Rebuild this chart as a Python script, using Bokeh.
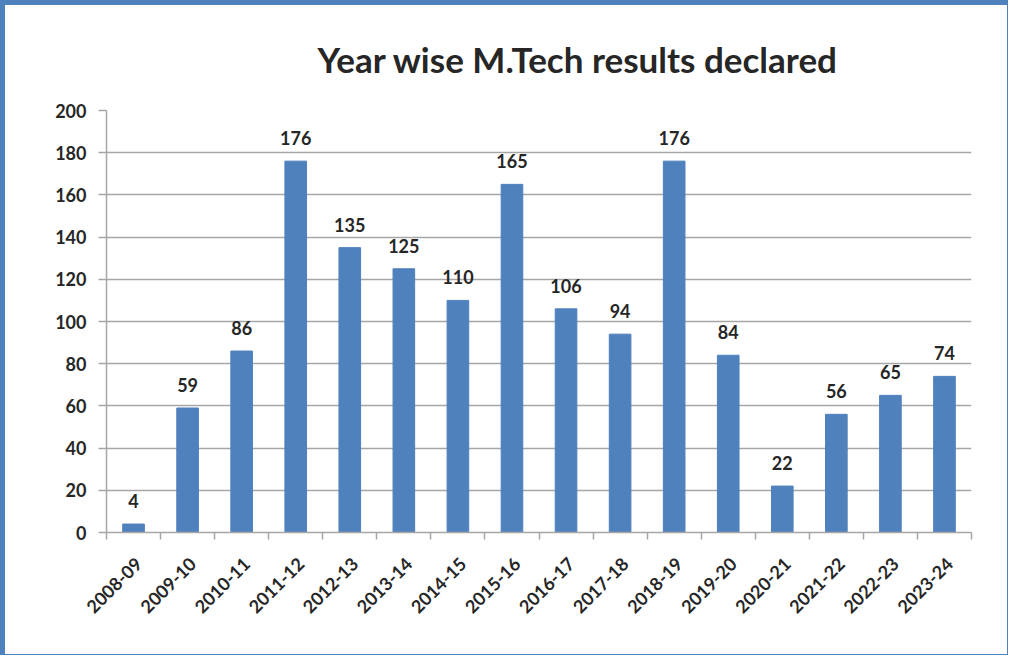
from bokeh.plotting import figure
from bokeh.models import Range1d, FixedTicker, Title
from bokeh.core.properties import value
from bokeh.embed import file_html
from bokeh.resources import INLINE

years = ["2008-09", "2009-10", "2010-11", "2011-12", "2012-13", "2013-14", "2014-15",
         "2015-16", "2016-17", "2017-18", "2018-19", "2019-20", "2020-21", "2021-22",
         "2022-23", "2023-24"]
results = [4, 59, 86, 176, 135, 125, 110, 165, 106, 94, 176, 84, 22, 56, 65, 74]
y_ticks = [0, 20, 40, 60, 80, 100, 120, 140, 160, 180, 200]

BLUE = "#4F81BD"
GRID = "#A6A6A6"
TXT = "#262626"
FONT = "Lato"

xs = [i + 0.5 for i in range(len(years))]
label_pos = [x + 0.09 for x in xs]  # rotated labels end slightly right of bar centre

p = figure(width=1008, height=655, output_backend="svg", toolbar_location=None,
           x_range=Range1d(0, len(years)), y_range=Range1d(0, 200),
           min_border_left=106, min_border_right=37, min_border_top=110, min_border_bottom=123)
p.title = Title(text="Year wise M.Tech results declared", align="left", offset=211,
                text_font=FONT, text_font_size="35px", text_font_style="bold",
                text_color=TXT, standoff=62)
p.border_fill_alpha = 0
p.styles = {"box-shadow": "inset 5px 5px 0 0 %s, inset -1px -1px 0 0 %s" % (BLUE, BLUE),
            "background-color": "white"}
p.outline_line_color = None
p.background_fill_color = "white"

p.vbar(x=xs, top=results, width=0.4, color=BLUE)
p.text(x=xs, y=results, text=[str(v) for v in results], text_align="center",
       text_baseline="alphabetic", y_offset=-23, text_font=value(FONT),
       text_font_size="18px", text_font_style="bold", text_color=TXT)

# y axis
p.yaxis.ticker = FixedTicker(ticks=y_ticks)
p.yaxis.axis_line_color = GRID
p.yaxis.axis_line_width = 1.5
p.yaxis.major_tick_line_color = GRID
p.yaxis.major_tick_line_width = 1.5
p.yaxis.major_tick_out = 8
p.yaxis.major_tick_in = 0
p.yaxis.minor_tick_line_color = None
p.yaxis.major_label_text_font = FONT
p.yaxis.major_label_text_font_size = "18px"
p.yaxis.major_label_text_font_style = "bold"
p.yaxis.major_label_text_color = TXT
p.yaxis.major_label_standoff = 12

# x axis
p.xaxis.ticker = FixedTicker(ticks=label_pos, minor_ticks=list(range(len(years) + 1)))
p.xaxis.major_label_overrides = {x: y for x, y in zip(label_pos, years)}
p.xaxis.major_label_orientation = 0.785398
p.xaxis.axis_line_color = GRID
p.xaxis.axis_line_width = 1.5
p.xaxis.major_tick_line_color = None
p.xaxis.major_tick_out = 0
p.xaxis.major_tick_in = 0
p.xaxis.minor_tick_line_color = GRID
p.xaxis.minor_tick_line_width = 1.5
p.xaxis.minor_tick_out = 7
p.xaxis.minor_tick_in = 0
p.xaxis.major_label_text_font = FONT
p.xaxis.major_label_text_font_size = "18px"
p.xaxis.major_label_text_font_style = "bold"
p.xaxis.major_label_text_color = TXT
p.xaxis.major_label_standoff = 21

p.xgrid.grid_line_color = None
p.ygrid.grid_line_color = GRID
p.ygrid.grid_line_width = 1.5

open("out.html", "w").write(file_html(p, INLINE))
